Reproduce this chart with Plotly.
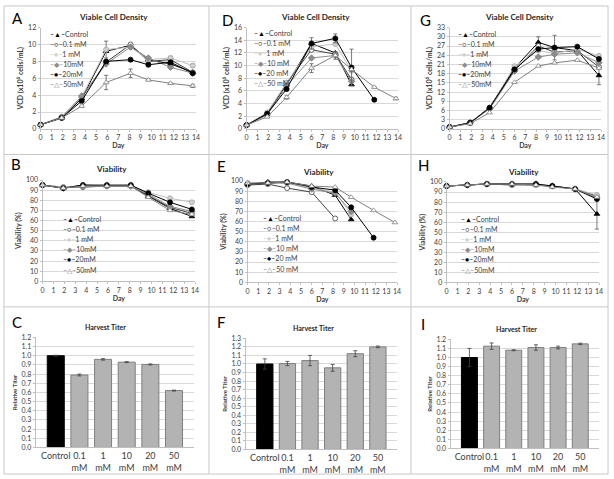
import plotly.graph_objects as go

W, H = 614, 479

# ---------------- data ----------------
series_names = ["Control", "0.1 mM", "1 mM", "10 mM", "20 mM", "50 mM"]

days_A = [0, 1.9, 3.7, 5.9, 8.1, 9.7, 11.7, 13.7]
days_D = [0, 1.9, 3.7, 6.0, 8.2, 9.7, 11.8, 13.8]
days_G = [0, 1.9, 3.7, 6.0, 8.2, 9.7, 11.8, 13.8]

# Panel A - VCD
vcd_A_control = [0.5, 1.3, 3.6, 9.2, 9.9, 8.2, 7.7, 6.7]
vcd_A_01 = [0.5, 1.4, 3.7, 7.9, 10.0, 8.0, 8.2, 6.7]
vcd_A_1 = [0.5, 1.3, 3.8, 9.4, 9.7, 8.2, 8.4, 7.5]
vcd_A_10 = [0.5, 1.4, 3.9, 7.7, 9.7, 8.4, 7.3, 6.6]
vcd_A_20 = [0.5, 1.3, 3.3, 8.0, 8.2, 7.6, 7.9, 6.6]
vcd_A_50 = [0.5, 1.3, 2.7, 5.5, 6.6, 5.8, 5.4, 5.1]
err_A_1 = [0, 0, 0.1, 1.0, 0.2, 0.3, 0.2, 0.2]
err_A_50 = [0, 0, 0.1, 0.85, 0.5, 0.1, 0.1, 0.2]

# Panel D - VCD
vcd_D_control = [0.6, 2.5, 7.0, 13.5, 12.0, 7.0, None, None]
vcd_D_01 = [0.6, 2.3, 7.2, 12.5, 11.8, 7.8, None, None]
vcd_D_1 = [0.6, 2.6, 7.3, 13.0, 13.4, 9.2, None, None]
vcd_D_10 = [0.6, 2.2, 6.8, 11.2, 11.6, 7.5, None, None]
vcd_D_20 = [0.6, 2.4, 6.3, 13.5, 14.3, 9.7, 4.6, None]
vcd_D_50 = [0.6, 1.9, 5.0, 9.6, 11.6, 9.4, 6.6, 4.8]
err_D_20 = [0, 0.2, 0.3, 0.9, 0.7, 2.9, 0.2, 0]
err_D_50 = [0, 0.1, 0.3, 0.7, 0.6, 0.3, 0.1, 0.2]

# Panel G - VCD
vcd_G_control = [0.6, 2.0, 7.0, 19.8, 28.2, 26.5, 25.5, 17.4]
vcd_G_01 = [0.6, 2.0, 6.8, 19.0, 27.0, 25.0, 25.5, 20.2]
vcd_G_1 = [0.6, 2.1, 6.9, 20.4, 25.5, 24.6, 26.0, 23.8]
vcd_G_10 = [0.6, 2.0, 6.5, 18.8, 23.4, 24.3, 24.8, 21.6]
vcd_G_20 = [0.6, 2.0, 6.9, 19.4, 26.0, 26.5, 26.8, 22.8]
vcd_G_50 = [0.6, 1.7, 5.3, 15.2, 20.5, 21.5, 22.4, 19.8]
err_G_control = [0, 0.2, 0.4, 0.6, 1.8, 4.0, 0.5, 3.0]

# Panel B - viability
via_B_control = [95, 92, 95, 94, 94, 84, 72, 64]
via_B_01 = [95, 93, 93, 94, 94, 85, 73, 67]
via_B_1 = [95, 93, 94, 94, 94, 88, 82, 78]
via_B_10 = [95, 92, 94, 94, 94, 86, 74, 69]
via_B_20 = [95, 92, 95, 95, 95, 87, 78, 71]
via_B_50 = [95, 92, 94, 94, 94, 83, 70, 66]

# Panel E - viability
via_E_control = [97, 99, 99, 95, 86, 62, None, None]
via_E_01 = [96, 97, 93, 89, 63, None, None, None]
via_E_1 = [98, 98, 98, 93, 89, 67, None, None]
via_E_10 = [97, 98, 98, 92, 88, 70, None, None]
via_E_20 = [97, 98, 99, 94, 91, 74, 44, None]
via_E_50 = [98, 98, 99, 95, 94, 84, 71, 59]

# Panel H - viability
via_H_control = [96, 97, 98, 98, 97, 96, 93, 68]
via_H_01 = [96, 97, 98, 97, 97, 96, 93, 86]
via_H_1 = [96, 97, 98, 97, 97, 96, 93, 87]
via_H_10 = [96, 97, 98, 98, 98, 96, 93, 84]
via_H_20 = [96, 97, 98, 98, 98, 96, 93, 83]
via_H_50 = [96, 97, 98, 98, 97, 95, 93, 85]
err_H_control = [0, 0, 0, 0, 0, 0, 0.5, 15]

# Harvest titer
titer_cats = ["Control", "0.1<br>mM", "1<br>mM", "10<br>mM", "20<br>mM", "50<br>mM"]
titer_C = [1.00, 0.79, 0.96, 0.93, 0.905, 0.62]
err_C = [0.005, 0.01, 0.008, 0.005, 0.005, 0.005]
titer_F = [1.00, 1.005, 1.04, 0.955, 1.12, 1.20]
err_F = [0.06, 0.025, 0.06, 0.04, 0.035, 0.01]
titer_I = [1.00, 1.125, 1.08, 1.11, 1.11, 1.15]
err_I = [0.10, 0.035, 0.005, 0.03, 0.015, 0.008]

legend_A = ["Control", "0.1 mM", "1 mM", "10mM", "20mM", "50mM"]
legend_D = ["Control", "0.1 mM", "1 mM", "10 mM", "20 mM", "50 mM"]
legend_G = ["Control", "0.1 mM", "1 mM", "10mM", "20mM", "50mM"]
legend_B = ["Control", "0.1 mM", "1 mM", "10mM", "20mM", "50mM"]
legend_E = ["Control", "0.1 mM", "1 mM", "10 mM", "20 mM", "50 mM"]
legend_H = ["Control", "0.1 mM", "1 mM", "10mM", "20mM", "50mM"]

# ---------------- styles ----------------
STY = [
    dict(line="#000000", symbol="triangle-up", fill="#000000", outline="#000000", ch="▲"),
    dict(line="#404040", symbol="circle", fill="#ffffff", outline="#404040", ch="○"),
    dict(line="#bfbfbf", symbol="circle", fill="#d0d0d0", outline="#a6a6a6", ch="●"),
    dict(line="#8c8c8c", symbol="diamond", fill="#8c8c8c", outline="#7f7f7f", ch="◆"),
    dict(line="#000000", symbol="circle", fill="#000000", outline="#000000", ch="●"),
    dict(line="#808080", symbol="triangle-up", fill="#ffffff", outline="#808080", ch="△"),
]

FONT = "Lato, 'Liberation Sans', Arial, sans-serif"

def px_x(x):
    return x / W

def px_y(y):
    return 1 - y / H

def xd(a, b):
    return [a / W, b / W]

def yd(top, bot):
    return [1 - bot / H, 1 - top / H]

fig = go.Figure()
layout = dict(width=W, height=H, margin=dict(l=0, r=0, t=0, b=0),
              paper_bgcolor="white", plot_bgcolor="white", showlegend=False,
              font=dict(family=FONT, color="#404040"))
annotations = []
shapes = []

panels = [
    ("A", 1, days_A, [vcd_A_control, vcd_A_01, vcd_A_1, vcd_A_10, vcd_A_20, vcd_A_50],
     {2: err_A_1, 5: err_A_50}, 12, 2, "VCD (x10<sup>6</sup> cells/mL)", (39, 196), (23, 126)),
    ("D", 2, days_D, [vcd_D_control, vcd_D_01, vcd_D_1, vcd_D_10, vcd_D_20, vcd_D_50],
     {4: err_D_20, 5: err_D_50}, 16, 2, "VCD (x10<sup>6</sup> cells/mL)", (247, 400), (23, 126)),
    ("G", 3, days_G, [vcd_G_control, vcd_G_01, vcd_G_1, vcd_G_10, vcd_G_20, vcd_G_50],
     {0: err_G_control}, 33, 3, "VCD (x10<sup>6</sup> cells/mL)", (452, 605), (23, 126)),
    ("B", 4, days_A, [via_B_control, via_B_01, via_B_1, via_B_10, via_B_20, via_B_50],
     {}, 100, 10, "Viability (%)", (41, 195), (178, 281)),
    ("E", 5, days_D, [via_E_control, via_E_01, via_E_1, via_E_10, via_E_20, via_E_50],
     {}, 100, 10, "Viability (%)", (248, 399), (179, 282)),
    ("H", 6, days_G, [via_H_control, via_H_01, via_H_1, via_H_10, via_H_20, via_H_50],
     {0: err_H_control}, 100, 10, "Viability (%)", (449, 603), (180, 282)),
]

legend_info = {
    "A": (legend_A, 46, 29), "D": (legend_D, 252, 28), "G": (legend_G, 458, 29),
    "B": (legend_B, 60, 218), "E": (legend_E, 262, 217), "H": (legend_H, 462, 218),
}

for key, n, days, series, errs, ymax, dtick, ytitle, xdom, ydom in panels:
    xa = f"x{n}"
    ya = f"y{n}"
    for i, vals in enumerate(series):
        s = STY[i]
        tr = dict(
            x=days, y=vals, mode="lines+markers", name=series_names[i],
            xaxis=xa, yaxis=ya, connectgaps=False, cliponaxis=False,
            line=dict(color=s["line"], width=1),
            marker=dict(symbol=s["symbol"], size=5, color=s["fill"],
                        line=dict(color=s["outline"], width=0.8)),
        )
        if i in errs:
            tr["error_y"] = dict(type="data", array=errs[i], visible=True,
                                 color="#595959", thickness=0.8, width=2)
        fig.add_trace(go.Scatter(**tr))
    sfx = "" if n == 1 else str(n)
    layout["xaxis" + sfx] = dict(
        domain=xd(*xdom), anchor=ya, range=[0, 14], dtick=1, tick0=0,
        showgrid=False, zeroline=False, showline=True, linecolor="#bfbfbf", linewidth=1,
        ticks="outside", ticklen=2, tickcolor="#bfbfbf",
        tickfont=dict(size=7, color="#404040", family=FONT),
        title=dict(text="<b>Day</b>", font=dict(size=7, color="#404040", family=FONT), standoff=0),
    )
    layout["yaxis" + sfx] = dict(
        domain=yd(*ydom), anchor=xa, range=[0, ymax], dtick=dtick, tick0=0,
        showgrid=True, gridcolor="#d9d9d9", gridwidth=1, zeroline=False,
        showline=True, linecolor="#bfbfbf", linewidth=1,
        ticks="outside", ticklen=2, tickcolor="#bfbfbf",
        tickfont=dict(size=7, color="#404040", family=FONT),
        title=dict(text=f"<b>{ytitle}</b>", font=dict(size=7, color="#404040", family=FONT), standoff=3),
    )
    # compact legend, one text per entry
    labels, lx, ly = legend_info[key]
    for i, lab in enumerate(labels):
        s = STY[i]
        mcol = s["outline"] if s["ch"] in ("○", "△") else s["fill"]
        txt = (f'<span style="color:{s["line"]}">–</span><span style="color:{mcol}">{s["ch"]}</span>'
               f'<span style="color:{s["line"]}">–</span>{lab}')
        annotations.append(dict(text=txt, x=px_x(lx), y=px_y(ly + 10.2 * i), xref="paper", yref="paper",
                                xanchor="left", yanchor="middle", align="left", showarrow=False,
                                font=dict(size=7, color="#404040", family=FONT)))

bar_panels = [
    ("C", 7, titer_C, err_C, 1.2, (34, 194), (338, 450)),
    ("F", 8, titer_F, err_F, 1.3, (246, 399), (339, 452)),
    ("I", 9, titer_I, err_I, 1.2, (453, 603), (340, 451)),
]
bar_fill = ["#000000", "#b3b3b3", "#b3b3b3", "#b3b3b3", "#b3b3b3", "#b3b3b3"]
bar_line = ["#000000", "#7f7f7f", "#7f7f7f", "#7f7f7f", "#7f7f7f", "#7f7f7f"]

for key, n, vals, errs, ymax, xdom, ydom in bar_panels:
    xa = f"x{n}"
    ya = f"y{n}"
    fig.add_trace(go.Bar(
        x=titer_cats, y=vals, xaxis=xa, yaxis=ya, width=0.72,
        marker=dict(color=bar_fill, line=dict(color=bar_line, width=1)),
        error_y=dict(type="data", array=errs, visible=True, color="#404040", thickness=0.8, width=2),
    ))
    layout[f"xaxis{n}"] = dict(
        domain=xd(*xdom), anchor=ya, type="category", range=[-0.85, 5.85],
        showgrid=False, zeroline=False, showline=True, linecolor="#bfbfbf",
        ticks="", tickangle=0, tickfont=dict(size=9, color="#404040", family=FONT),
    )
    layout[f"yaxis{n}"] = dict(
        domain=yd(*ydom), anchor=xa, range=[0, ymax], dtick=0.1, tick0=0, tickformat=".1f",
        showgrid=True, gridcolor="#d9d9d9", zeroline=False, showline=True, linecolor="#bfbfbf",
        ticks="outside", ticklen=2, tickcolor="#bfbfbf",
        tickfont=dict(size=7, color="#404040", family=FONT),
        title=dict(text="<b>Relative Titer</b>", font=dict(size=6, color="#404040", family=FONT), standoff=3),
    )

# panel titles
titles = [
    ("Viable Cell Density", 113, 12, 8), ("Viable Cell Density", 317, 12, 8), ("Viable Cell Density", 523, 12, 8),
    ("Viability", 111, 167, 8), ("Viability", 320, 170, 8), ("Viability", 527, 170, 8),
    ("Harvest Titer", 105, 327, 7), ("Harvest Titer", 315, 328, 7), ("Harvest Titer", 520, 329, 7),
]
for t, x, y, sz in titles:
    annotations.append(dict(text=f"<b>{t}</b>", x=px_x(x), y=px_y(y), xref="paper", yref="paper",
                            xanchor="center", yanchor="middle", showarrow=False,
                            font=dict(size=sz, color="#262626", family=FONT)))

letters = [("A", 16, 13), ("D", 228, 15), ("G", 428, 15), ("B", 14, 162), ("E", 222, 164),
           ("H", 426, 163), ("C", 15, 322), ("F", 221, 322), ("I", 425, 324)]
for t, x, y in letters:
    annotations.append(dict(text=t, x=px_x(x), y=px_y(y), xref="paper", yref="paper",
                            xanchor="center", yanchor="middle", showarrow=False,
                            font=dict(size=15, color="#000000", family=FONT)))

# panel frames
frame = dict(type="line", xref="paper", yref="paper", line=dict(color="#c8c8c8", width=1))
shapes.append(dict(type="rect", xref="paper", yref="paper", x0=px_x(2), x1=px_x(612), y0=px_y(477), y1=px_y(1),
                   line=dict(color="#c8c8c8", width=1)))
for xv in (209, 413):
    shapes.append(dict(frame, x0=px_x(xv), x1=px_x(xv), y0=px_y(477), y1=px_y(1)))
for yv in (152, 307):
    shapes.append(dict(frame, x0=px_x(2), x1=px_x(612), y0=px_y(yv), y1=px_y(yv)))

layout["annotations"] = annotations
layout["shapes"] = shapes
fig.update_layout(**layout)
fig.write_html("out.html", config={"displayModeBar": False},
               post_script="document.body.style.margin='0px';document.body.style.overflow='hidden';")
